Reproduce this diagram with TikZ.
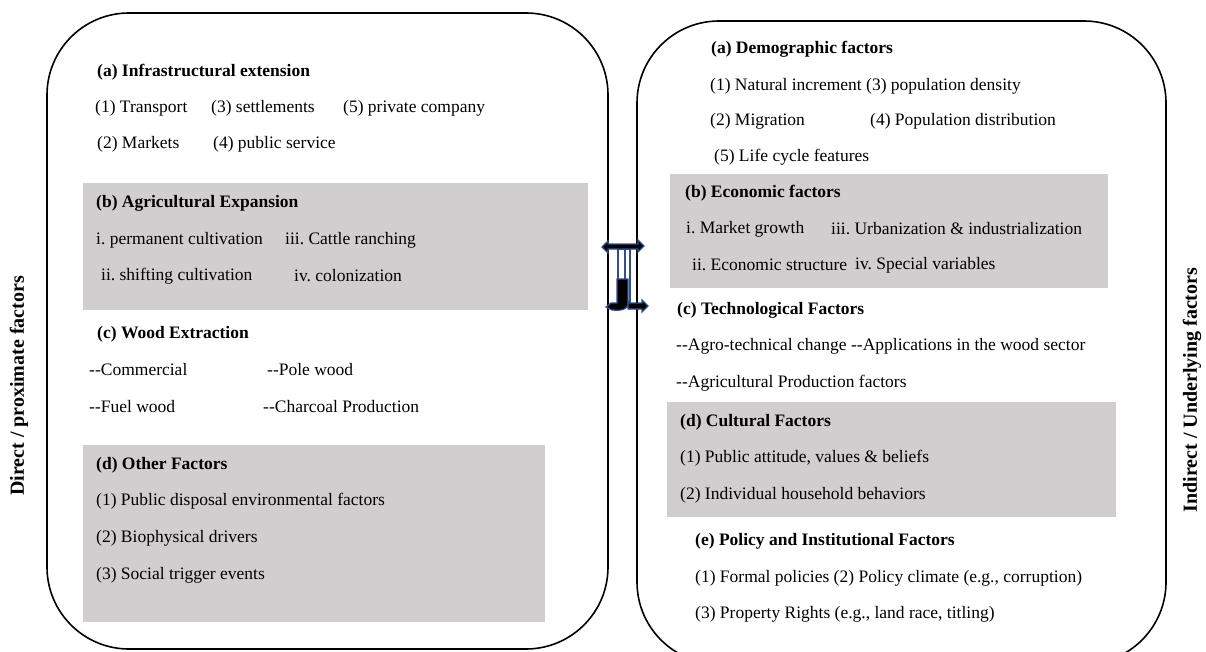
\documentclass[tikz,border=0pt]{standalone}
\usepackage{fontspec}
\setmainfont{Liberation Serif}
\frenchspacing
\definecolor{graybg}{HTML}{D0CECE}
\definecolor{arrowblue}{HTML}{2F4F8F}
\begin{document}
\begin{tikzpicture}[x=1pt,y=-1pt,
  frame/.style={draw=black, line width=1.6pt, rounded corners=82pt},
  gbox/.style={fill=graybg, draw=none},
  txt/.style={anchor=west, inner sep=0pt, yshift=-2pt, font=\fontsize{17.5}{20}\selectfont},
  hd/.style={anchor=west, inner sep=0pt, yshift=-2pt, font=\fontsize{17.5}{20}\selectfont\bfseries},
  side/.style={rotate=90, inner sep=0pt, font=\fontsize{20}{24}\selectfont\bfseries},
  arr/.style={draw=arrowblue, line width=1.2pt, line join=miter}]
\useasboundingbox (0,0) rectangle (1206,652);
\begin{scope}
\clip (0,0) rectangle (1206,652);
% frames
\draw[frame] (47,13) rectangle (608,649);
\draw[frame] (637,21) rectangle (1166,664);
\end{scope}
% gray boxes
\fill[gbox] (83,183) rectangle (588,310);
\fill[gbox] (83,445) rectangle (545,622);
\fill[gbox] (670,174) rectangle (1108,288);
\fill[gbox] (667,402) rectangle (1116,517);
% side labels
\node[side] (lside) at (19,386) {Direct / proximate factors};
\node[side] (rside) at (1192,390) {Indirect / Underlying factors};
% left column
\node[hd]  (la)  at (97,70)  {(a) Infrastructural extension};
\node[txt] (la1) at (95,106) {(1) Transport};
\node[txt] (la3) at (211,106) {(3) settlements};
\node[txt] (la5) at (343,106) {(5) private company};
\node[txt] (la2) at (97,142) {(2) Markets};
\node[txt] (la4) at (213,142) {(4) public service};
\node[hd]  (lb)  at (96,201) {(b) Agricultural Expansion};
\node[txt] (lb1) at (96,238) {i. permanent cultivation};
\node[txt] (lb3) at (285,238) {iii. Cattle ranching};
\node[txt] (lb2) at (101,274) {ii. shifting cultivation};
\node[txt] (lb4) at (294,274) {iv. colonization};
\node[hd]  (lc)  at (97,332) {(c) Wood Extraction};
\node[txt] (lc1) at (89,368) {-{}-Commercial};
\node[txt] (lc2) at (267,368) {-{}-Pole wood};
\node[txt] (lc3) at (89,405) {-{}-Fuel wood};
\node[txt] (lc4) at (263,405) {-{}-Charcoal Production};
\node[hd]  (ld)  at (96,463) {(d) Other Factors};
\node[txt] (ld1) at (96,499) {(1) Public disposal environmental factors};
\node[txt] (ld2) at (96,536) {(2) Biophysical drivers};
\node[txt] (ld3) at (96,573) {(3) Social trigger events};
% right column
\node[hd]  (ra)  at (711,47) {(a) Demographic factors};
\node[txt] (ra1) at (710,84) {(1) Natural increment (3) population density};
\node[txt] (ra2) at (710,119) {(2) Migration};
\node[txt] (ra4) at (870,119) {(4) Population distribution};
\node[txt] (ra5) at (714,155) {(5) Life cycle features};
\node[hd]  (rb)  at (685,191) {(b) Economic factors};
\node[txt] (rb1) at (686,227) {i. Market growth};
\node[txt] (rb3) at (831,227) {iii. Urbanization \& industrialization};
\node[txt] (rb2) at (692,263) {ii. Economic structure};
\node[txt] (rb4) at (855,263) {iv. Special variables};
\node[hd]  (rc)  at (677,308) {(c) Technological Factors};
\node[txt] (rc1) at (676,344) {-{}-Agro-technical change -{}-Applications in the wood sector};
\node[txt] (rc2) at (676,381) {-{}-Agricultural Production factors};
\node[hd]  (rd)  at (680,420) {(d) Cultural Factors};
\node[txt] (rd1) at (680,456) {(1) Public attitude, values \& beliefs};
\node[txt] (rd2) at (680,493) {(2) Individual household behaviors};
\node[hd]  (re)  at (695,539) {(e) Policy and Institutional Factors};
\node[txt] (re1) at (695,576) {(1) Formal policies (2) Policy climate (e.g., corruption)};
\node[txt] (re2) at (695,612) {(3) Property Rights (e.g., land race, titling)};
% central double arrow shape
\draw[arr, fill=white] (625,249) rectangle (630,302);
\draw[arr, fill=white] (618,249) rectangle (625,280);
\draw[arr, fill=black] (602,247) -- (608,241) -- (608,244) -- (638,244) -- (638,240) -- (644,246)
  -- (638,252) -- (638,249) -- (608,249) -- (608,253) -- cycle;
\draw[arr, fill=black] (617,279) -- (628,279) -- (628,304) .. controls (628,309) and (622,311) .. (612,310)
  -- (606,307) -- (611,303) -- (617,303) -- cycle;
\draw[arr, fill=black] (628,303) -- (642,303) -- (642,300) -- (648,306) -- (642,312) -- (642,309) -- (628,309) -- cycle;
\end{tikzpicture}
\end{document}
